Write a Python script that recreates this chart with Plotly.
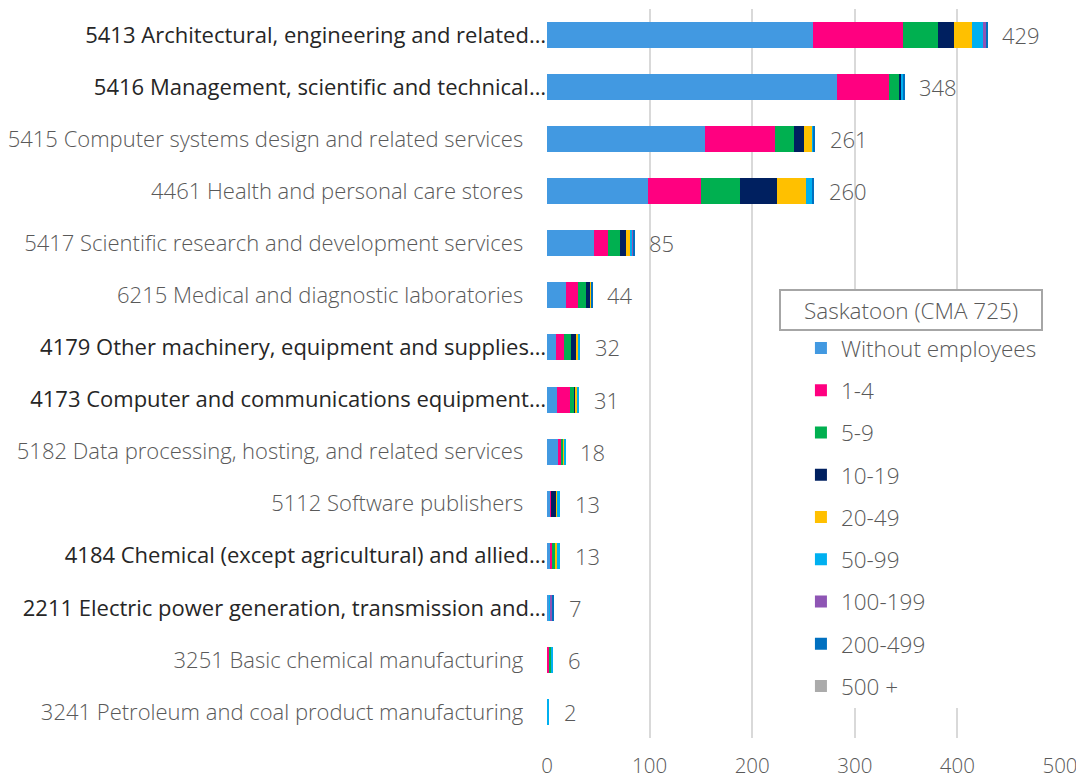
import plotly.graph_objects as go

# industries, top to bottom
industries = [
    "5413 Architectural, engineering and related…",
    "5416 Management, scientific and technical…",
    "5415 Computer systems design and related services",
    "4461 Health and personal care stores",
    "5417 Scientific research and development services",
    "6215 Medical and diagnostic laboratories",
    "4179 Other machinery, equipment and supplies…",
    "4173 Computer and communications equipment…",
    "5182 Data processing, hosting, and related services",
    "5112 Software publishers",
    "4184 Chemical (except agricultural) and allied…",
    "2211 Electric power generation, transmission and…",
    "3251 Basic chemical manufacturing",
    "3241 Petroleum and coal product manufacturing",
]

size_classes = ["Without employees", "1-4", "5-9", "10-19", "20-49",
                "50-99", "100-199", "200-499", "500 +"]

without_emp = [259, 283, 154, 98, 46, 19, 9, 10, 11, 3, 3, 2, 0, 0]
emp_1_4     = [88, 50, 68, 52, 13, 11, 8, 12, 3, 1, 2, 0, 2, 0]
emp_5_9     = [34, 10, 19, 38, 12, 8, 6, 4, 2, 0, 3, 0, 2, 0]
emp_10_19   = [16, 2, 9, 36, 6, 4, 5, 2, 0, 5, 0, 0, 0, 0]
emp_20_49   = [17, 0, 8, 28, 4, 1, 3, 1, 1, 1, 2, 0, 0, 0]
emp_50_99   = [11, 2, 2, 6, 2, 0, 1, 2, 1, 3, 3, 1, 2, 2]
emp_100_199 = [3, 0, 0, 0, 1, 0, 0, 0, 0, 0, 0, 2, 0, 0]
emp_200_499 = [1, 1, 1, 2, 1, 1, 0, 0, 0, 0, 0, 2, 0, 0]
emp_500     = [0, 0, 0, 0, 0, 0, 0, 0, 0, 0, 0, 0, 0, 0]

totals = [429, 348, 261, 260, 85, 44, 32, 31, 18, 13, 13, 7, 6, 2]

series = [without_emp, emp_1_4, emp_5_9, emp_10_19, emp_20_49,
          emp_50_99, emp_100_199, emp_200_499, emp_500]
colors = ["#4299E1", "#FF0080", "#00B050", "#002060", "#FFC000",
          "#00B0F0", "#8E55B4", "#0070C0", "#ABABAB"]

FONT = "Open Sans"

fig = go.Figure()
for i, (name, vals, col) in enumerate(zip(size_classes, series, colors)):
    fig.add_trace(go.Bar(
        y=industries, x=vals, name=name, orientation="h",
        marker=dict(color=col, line=dict(width=0)),
        legendgroup=f"g{i}",
    ))

for ind, tot in zip(industries, totals):
    fig.add_annotation(x=tot, y=ind, text=str(tot), showarrow=False,
                       xanchor="left", xshift=13,
                       font=dict(size=22, color="#595959", family=FONT, weight=300))

# truncated names sit flush with the axis and are darker, the rest are set back
ticktext = []
for ind in industries:
    if ind.endswith("…"):
        ticktext.append(f"<span style='color:#262626;font-weight:400'>{ind}</span>")
    else:
        ticktext.append(ind + "\u00a0" * 4)

# white panel behind the legend
fig.add_shape(type="rect", xref="paper", yref="paper",
              x0=0.452, x1=0.967, y0=0.041, y1=0.6145,
              fillcolor="white", line=dict(width=0), layer="above")
fig.add_annotation(text="Saskatoon (CMA 725)", xref="paper", yref="paper",
                   x=0.7096, y=0.587, xanchor="center", yanchor="middle",
                   showarrow=False,
                   width=258, height=36, bgcolor="white",
                   bordercolor="#A6A6A6", borderwidth=2,
                   font=dict(size=22.5, color="#595959", family=FONT, weight=300))

# page body adds an 8px margin, so the figure is shrunk by that amount
fig.update_layout(
    width=1076, height=773,
    margin=dict(l=539, r=24, t=1, b=43),
    barmode="stack", bargap=0.5,
    plot_bgcolor="white", paper_bgcolor="white",
    font=dict(family=FONT, size=20, color="#595959", weight=300),
    xaxis=dict(range=[0, 500], dtick=100, showgrid=True, gridcolor="#D9D9D9",
               gridwidth=2, zeroline=False, showline=False, ticks="",
               ticklabelstandoff=13, automargin=False,
               tickfont=dict(size=20.5, color="#595959")),
    yaxis=dict(autorange="reversed", tickmode="array", tickvals=industries,
               ticktext=ticktext, ticks="", showline=False,
               ticklabelstandoff=0, automargin=False,
               tickfont=dict(size=22, color="#595959")),
    legend=dict(x=0.495, y=0.564, xanchor="left", yanchor="top",
                traceorder="grouped", tracegroupgap=10,
                bgcolor="rgba(0,0,0,0)",
                font=dict(size=22.5, color="#595959", family=FONT, weight=300)),
)

fig.write_html("out.html")
